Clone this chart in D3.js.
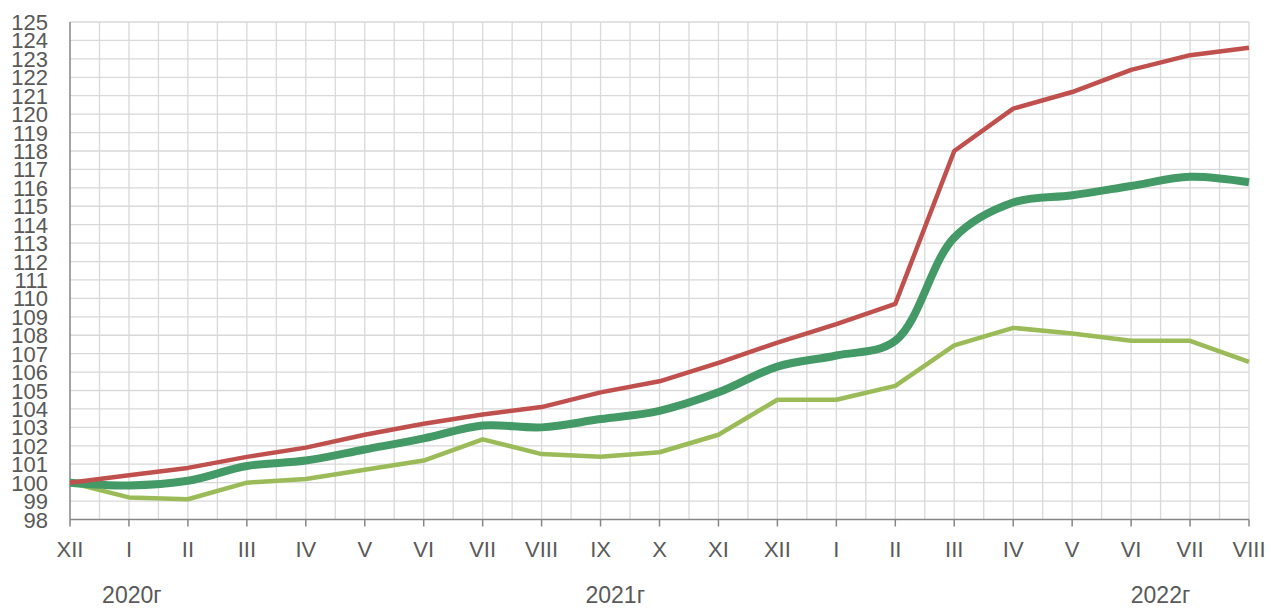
<!DOCTYPE html>
<html><head><meta charset="utf-8">
<script src="https://cdn.jsdelivr.net/npm/d3@7"></script>
<style>body{margin:0;background:#fff;}svg{display:block;font-family:"Liberation Sans",Arial,sans-serif;}</style>
</head><body>
<svg id="c" width="1274" height="608"></svg>
<script>
const months = ["XII","I","II","III","IV","V","VI","VII","VIII","IX","X","XI","XII","I","II","III","IV","V","VI","VII","VIII"];
const years = [{label:"2020г", at:1.05},{label:"2021г", at:9.25},{label:"2022г", at:18.5}];
const redSeries = [100,100.4,100.8,101.4,101.9,102.6,103.2,103.7,104.1,104.9,105.5,106.5,107.6,108.6,109.7,118.0,120.3,121.2,122.4,123.2,123.6];
const darkGreenSeries = [100,99.85,100.1,100.9,101.2,101.8,102.4,103.1,103.0,103.45,103.9,104.9,106.3,106.9,107.7,113.3,115.2,115.6,116.1,116.6,116.3];
const lightGreenSeries = [100,99.2,99.1,100.0,100.2,100.7,101.2,102.35,101.55,101.4,101.65,102.6,104.5,104.5,105.25,107.45,108.4,108.1,107.7,107.7,106.55];
const yTicks = d3.range(98,126);

const svg = d3.select("#c");
const x = d3.scaleLinear().domain([0, months.length-1]).range([70, 1249]);
const y = d3.scaleLinear().domain([98,125]).range([519.5, 22]);

const grid = svg.append("g");
grid.selectAll("line.h").data(yTicks.filter(d=>d>98)).join("line")
  .attr("x1",70).attr("x2",1249).attr("y1",d=>y(d)).attr("y2",d=>y(d))
  .attr("stroke","#d9d9d9").attr("stroke-width",1.3);
grid.selectAll("line.v").data(d3.range(0.5, months.length-0.5+0.01, 0.5)).join("line")
  .attr("x1",d=>x(d)).attr("x2",d=>x(d)).attr("y1",y(98)).attr("y2",y(125))
  .attr("stroke","#d9d9d9").attr("stroke-width",1.3);

// axes
svg.append("line").attr("x1",70).attr("x2",70).attr("y1",y(98)).attr("y2",y(125)).attr("stroke","#868686").attr("stroke-width",1.5);
svg.append("line").attr("x1",70).attr("x2",1249).attr("y1",y(98)).attr("y2",y(98)).attr("stroke","#868686").attr("stroke-width",1.5);
svg.selectAll("line.tk").data(months.map((m,i)=>i)).join("line")
  .attr("x1",d=>x(d)).attr("x2",d=>x(d)).attr("y1",y(98)).attr("y2",y(98)+7)
  .attr("stroke","#868686").attr("stroke-width",1.5);

svg.selectAll("text.yl").data(yTicks).join("text")
  .attr("x",48).attr("y",d=>y(d)+8).attr("text-anchor","end")
  .attr("font-size",22).attr("fill","#595959").text(d=>d);
svg.selectAll("text.xl").data(months).join("text")
  .attr("x",(d,i)=>x(i)).attr("y",557).attr("text-anchor","middle")
  .attr("font-size",22).attr("fill","#595959").text(d=>d);
svg.selectAll("text.yr").data(years).join("text")
  .attr("x",d=>x(d.at)).attr("y",603).attr("text-anchor","middle")
  .attr("font-size",23).attr("fill","#595959").text(d=>d.label);

const lineStraight = d3.line().x((d,i)=>x(i)).y(d=>y(d));
const lineSmooth = d3.line().x((d,i)=>x(i)).y(d=>y(d)).curve(d3.curveCatmullRom.alpha(0.5));

svg.append("path").datum(lightGreenSeries).attr("d",lineStraight)
  .attr("fill","none").attr("stroke","#9bbb59").attr("stroke-width",4.5).attr("stroke-linejoin","round");
svg.append("path").datum(darkGreenSeries).attr("d",lineSmooth)
  .attr("fill","none").attr("stroke","#439a66").attr("stroke-width",8).attr("stroke-linejoin","round");
svg.append("path").datum(redSeries).attr("d",lineStraight)
  .attr("fill","none").attr("stroke","#c0504d").attr("stroke-width",4.5).attr("stroke-linejoin","round");
</script>
</body></html>
